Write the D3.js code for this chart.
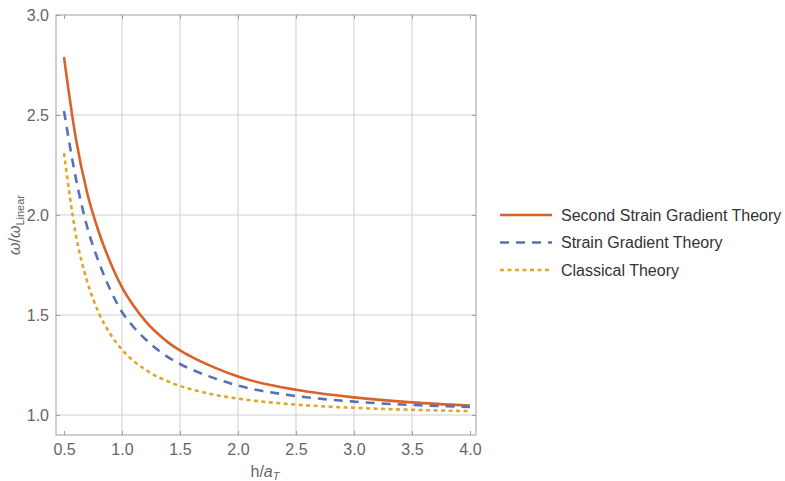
<!DOCTYPE html>
<html>
<head>
<meta charset="utf-8">
<script src="https://cdn.jsdelivr.net/npm/d3@7"></script>
<style>
  body { margin: 0; background: #fff; }
  text { font-family: "Liberation Sans", Arial, sans-serif; }
</style>
</head>
<body>
<svg width="785" height="481"></svg>
<script>
// values
const hOverA = [0.5, 0.6, 0.7, 0.8, 0.9, 1.0, 1.1, 1.2, 1.3, 1.4, 1.5, 1.6, 1.8, 2.0, 2.5, 3.0, 3.5, 4.0];
const secondStrain = [2.79, 2.39, 2.11, 1.915, 1.762, 1.638, 1.546, 1.471, 1.411, 1.362, 1.323, 1.291, 1.237, 1.192, 1.126, 1.088, 1.063, 1.047];
const strainGrad = [2.52, 2.19, 1.94, 1.765, 1.625, 1.515, 1.44, 1.38, 1.33, 1.288, 1.255, 1.228, 1.183, 1.147, 1.095, 1.067, 1.05, 1.04];
const classical = [2.31, 1.908, 1.667, 1.511, 1.404, 1.327, 1.27, 1.227, 1.193, 1.167, 1.145, 1.128, 1.101, 1.082, 1.052, 1.036, 1.026, 1.019];

const xTicks = [0.5, 1.0, 1.5, 2.0, 2.5, 3.0, 3.5, 4.0];
const yTicks = [1.0, 1.5, 2.0, 2.5, 3.0];
const xGrid = [1.0, 1.5, 2.0, 2.5, 3.0, 3.5];
const yGrid = [1.0, 1.5, 2.0, 2.5];

const seriesNames = ["Second Strain Gradient Theory", "Strain Gradient Theory", "Classical Theory"];
const seriesColors = ["#d9622b", "#5572b9", "#e1a52a"];
const seriesDash = [null, "9,7", "4,3.5"];
const seriesValues = [secondStrain, strainGrad, classical];

const svg = d3.select("svg");
const mLeft = 56, mRight = 476, mTop = 15, mBottom = 435;

const x = d3.scaleLinear().domain([0.431, 4.052]).range([mLeft, mRight]);
const y = d3.scaleLinear().domain([0.9, 3.0]).range([mBottom, mTop]);

// grid
svg.append("g").selectAll("line").data(xGrid).enter().append("line")
  .attr("x1", d => x(d)).attr("x2", d => x(d))
  .attr("y1", mTop).attr("y2", mBottom)
  .attr("stroke", "#cfcfcf").attr("stroke-width", 1);
svg.append("g").selectAll("line").data(yGrid).enter().append("line")
  .attr("y1", d => y(d)).attr("y2", d => y(d))
  .attr("x1", mLeft).attr("x2", mRight)
  .attr("stroke", "#cfcfcf").attr("stroke-width", 1);

// frame
svg.append("rect")
  .attr("x", mLeft).attr("y", mTop)
  .attr("width", mRight - mLeft).attr("height", mBottom - mTop)
  .attr("fill", "none").attr("stroke", "#a0a0a0").attr("stroke-width", 1);

// axes, ticks pointing inward
const xAxis = svg.append("g").attr("transform", `translate(0,${mBottom})`)
  .call(d3.axisBottom(x).tickValues(xTicks).tickFormat(d3.format(".1f")).tickSizeInner(-4).tickSizeOuter(0).tickPadding(9));
const yAxis = svg.append("g").attr("transform", `translate(${mLeft},0)`)
  .call(d3.axisLeft(y).tickValues(yTicks).tickFormat(d3.format(".1f")).tickSizeInner(-4).tickSizeOuter(0).tickPadding(7));
svg.append("g").attr("transform", `translate(0,${mTop})`)
  .call(d3.axisTop(x).tickValues(xTicks).tickFormat("").tickSizeInner(-4).tickSizeOuter(0));
svg.append("g").attr("transform", `translate(${mRight},0)`)
  .call(d3.axisRight(y).tickValues(yTicks).tickFormat("").tickSizeInner(-4).tickSizeOuter(0));

svg.selectAll(".domain").remove();
svg.selectAll(".tick line").attr("stroke", "#a0a0a0");
xAxis.selectAll("text").attr("font-size", 16).attr("fill", "#666");
yAxis.selectAll("text").attr("font-size", 16).attr("fill", "#666");

// axis labels
const xl = svg.append("text").attr("x", 265).attr("y", 477)
  .attr("text-anchor", "middle").attr("font-size", 16).attr("fill", "#666");
xl.append("tspan").text("h/");
xl.append("tspan").attr("font-style", "italic").text("a");
xl.append("tspan").attr("font-style", "italic").attr("font-size", 11).attr("dy", 3).text("T");

const yl = svg.append("text").attr("transform", "translate(20,225) rotate(-90)")
  .attr("text-anchor", "middle").attr("font-size", 16).attr("fill", "#666");
yl.append("tspan").attr("font-style", "italic").text("ω");
yl.append("tspan").text("/");
yl.append("tspan").attr("font-style", "italic").text("ω");
yl.append("tspan").attr("font-size", 11).attr("dy", 4).text("Linear");

// curves
const line = d3.line().x(d => x(d[0])).y(d => y(d[1])).curve(d3.curveMonotoneX);
seriesValues.forEach((vals, i) => {
  svg.append("path")
    .datum(hOverA.map((h, j) => [h, vals[j]]))
    .attr("d", line)
    .attr("fill", "none")
    .attr("stroke", seriesColors[i])
    .attr("stroke-width", 2.6)
    .attr("stroke-dasharray", seriesDash[i]);
});

// legend
const legend = svg.append("g").selectAll("g").data(seriesNames).enter().append("g")
  .attr("transform", (d, i) => `translate(500,${215 + i * 27.5})`);
legend.append("line")
  .attr("x1", 0).attr("x2", 52)
  .attr("stroke", (d, i) => seriesColors[i])
  .attr("stroke-width", 2.6)
  .attr("stroke-dasharray", (d, i) => seriesDash[i]);
legend.append("text")
  .attr("x", 61).attr("dy", "0.35em")
  .attr("font-size", 16).attr("fill", "#333")
  .text(d => d);
</script>
</body>
</html>
